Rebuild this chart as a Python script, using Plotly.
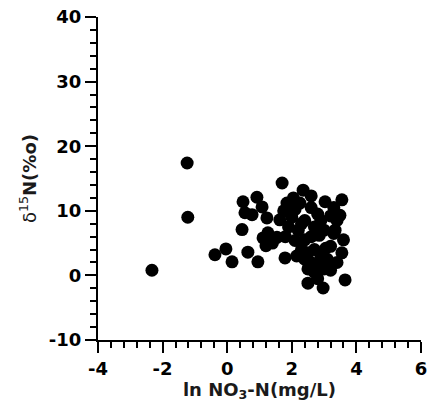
import plotly.graph_objects as go

ln_no3 = [-2.33, -1.24, -1.22, -0.38, -0.04, 0.15, 0.64, 0.95, 0.46,
          0.49, 0.92, 1.08, 0.55, 0.77, 1.23, 1.26, 1.11, 1.54, 1.63, 1.70, 1.85, 1.40, 1.20,
          2.35, 2.05, 2.25, 2.60, 3.03, 3.55, 2.80, 3.20, 2.00, 2.40, 1.90, 2.20, 2.70, 3.00,
          3.30, 3.60, 1.80, 2.10, 2.40, 2.60, 3.05, 3.20, 3.55, 2.30, 2.50, 2.70, 2.90, 3.10,
          1.79, 2.40, 2.60, 2.80, 3.00, 2.50, 2.70, 3.20, 2.50, 2.97, 3.65, 2.80, 2.30, 1.75,
          2.10, 3.40, 2.60, 3.30, 2.90, 3.49, 3.34, 2.15, 2.85, 3.40]
d15n = [0.8, 17.4, 9.0, 3.2, 4.1, 2.1, 3.6, 2.1, 7.1,
        11.4, 12.1, 10.6, 9.7, 9.4, 8.9, 6.6, 5.8, 5.9, 8.6, 14.3, 11.2, 5.0, 4.6,
        13.2, 12.0, 11.2, 10.5, 11.4, 11.7, 9.5, 9.2, 9.0, 8.5, 7.5, 7.0, 7.5, 7.0,
        6.5, 5.5, 6.0, 5.4, 5.5, 6.0, 4.2, 4.5, 3.5, 4.0, 3.5, 4.0, 3.0, 2.5,
        2.7, 2.5, 2.0, 1.5, 1.0, 1.0, 0.5, 0.8, -1.2, -1.95, -0.7, -0.5, 8.0, 10.0,
        10.2, 8.5, 12.3, 10.5, 8.5, 9.3, 7.0, 3.0, 6.2, 2.0]

x_ticks = [-4, -2, 0, 2, 4, 6]
y_ticks = [-10, 0, 10, 20, 30, 40]

fig = go.Figure()
fig.add_trace(go.Scatter(
    x=ln_no3, y=d15n, mode="markers",
    marker=dict(size=13, color="black", line=dict(width=0)),
    showlegend=False, cliponaxis=False,
))

font_family = "DejaVu Sans, Liberation Sans, Arial, sans-serif"
axis_common = dict(
    showgrid=False, zeroline=False, showline=True, linecolor="black", linewidth=2,
    ticks="outside", ticklen=11, tickwidth=2, tickcolor="black",
    ticklabeloverflow="allow", automargin=False,
    tickfont=dict(family=font_family, size=18, color="black", weight="bold"),
)

fig.update_xaxes(
    range=[-4, 6], tickvals=x_ticks, ticktext=[str(v) for v in x_ticks],
    minor=dict(dtick=0.4, tick0=-4, ticks="outside", ticklen=6, tickwidth=1.5, tickcolor="black"),
    title=dict(text="<b>ln NO<sub>3</sub>-N(mg/L)</b>", font=dict(family=font_family, size=18, color="#1a1a1a"), standoff=3),
    **axis_common,
)
fig.update_yaxes(
    range=[-10, 40], tickvals=y_ticks, ticktext=[str(v) for v in y_ticks],
    minor=dict(dtick=2, tick0=-10, ticks="outside", ticklen=6, tickwidth=1.5, tickcolor="black"),
    title=dict(text="δ<sup>15</sup><b>N(%o)</b>", font=dict(family=font_family, size=18, color="#1a1a1a"), standoff=8),
    **axis_common,
)

fig.update_layout(
    width=430, height=407,
    margin=dict(l=98, r=9, t=17, b=67),
    plot_bgcolor="white", paper_bgcolor="white",
)

fig.write_html("out.html", config=dict(displayModeBar=False),
               post_script="document.body.style.margin='0';")
